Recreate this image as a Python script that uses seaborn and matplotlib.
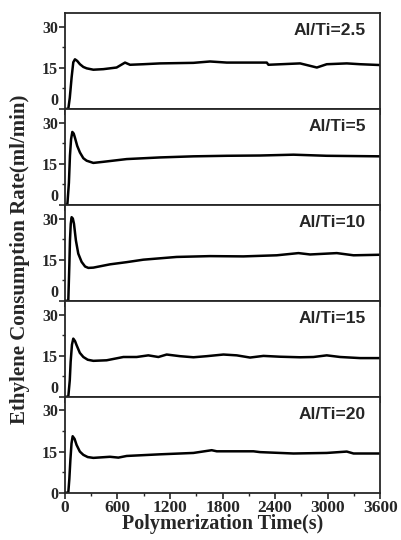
import numpy as np
import pandas as pd
import matplotlib
matplotlib.use("Agg")
import matplotlib.pyplot as plt
from matplotlib.ticker import MultipleLocator
import seaborn as sns

labels = ["Al/Ti=2.5", "Al/Ti=5", "Al/Ti=10", "Al/Ti=15", "Al/Ti=20"]

t1 = [0, 38, 55, 76, 95, 114, 140, 171, 210, 248, 324, 438, 590, 686, 743, 895, 1086, 1467, 1657, 1848, 2305, 2324, 2686, 2877, 2990, 3219, 3372, 3600]
v1 = [0, 0, 4.0, 11.5, 17.0, 18.1, 17.5, 16.3, 15.3, 14.8, 14.3, 14.5, 15.1, 16.9, 16.1, 16.3, 16.6, 16.8, 17.3, 16.9, 16.9, 16.1, 16.6, 15.1, 16.3, 16.6, 16.3, 16.0]

t2 = [0, 27, 45, 57, 70, 84, 100, 114, 140, 171, 210, 248, 324, 438, 705, 1086, 1467, 1848, 2229, 2610, 2990, 3600]
v2 = [0, 0, 8.0, 17.9, 24.0, 26.6, 26.0, 24.5, 21.5, 19.1, 17.0, 16.1, 15.3, 15.7, 16.7, 17.3, 17.7, 17.9, 18.0, 18.3, 17.9, 17.7]

t3 = [0, 38, 50, 57, 66, 76, 90, 103, 125, 152, 190, 230, 267, 324, 514, 705, 895, 1276, 1657, 2038, 2419, 2667, 2800, 3105, 3296, 3600]
v3 = [0, 0, 13.0, 21.9, 28.0, 30.5, 30.0, 28.1, 22.0, 17.2, 14.2, 12.5, 12.0, 12.1, 13.3, 14.1, 15.0, 16.0, 16.3, 16.2, 16.6, 17.4, 16.9, 17.4, 16.6, 16.8]

t4 = [0, 38, 55, 65, 80, 95, 115, 133, 170, 210, 260, 324, 476, 667, 819, 952, 1067, 1162, 1314, 1467, 1619, 1810, 1962, 2114, 2267, 2457, 2686, 2838, 2990, 3143, 3372, 3600]
v4 = [0, 0, 6.0, 12.8, 19.0, 21.2, 20.3, 18.8, 16.0, 14.5, 13.5, 13.1, 13.3, 14.5, 14.5, 15.1, 14.5, 15.4, 14.8, 14.4, 14.8, 15.4, 15.1, 14.3, 14.9, 14.6, 14.4, 14.5, 15.1, 14.5, 14.1, 14.1]

t5 = [0, 38, 50, 62, 75, 88, 110, 133, 170, 210, 260, 324, 514, 610, 705, 1086, 1467, 1676, 1734, 1848, 2153, 2229, 2610, 2990, 3219, 3296, 3600]
v5 = [0, 0, 5.0, 12.0, 18.0, 20.6, 19.6, 17.4, 15.0, 13.8, 13.0, 12.7, 13.1, 12.8, 13.4, 14.0, 14.5, 15.5, 15.1, 15.1, 15.1, 14.8, 14.3, 14.5, 15.0, 14.3, 14.3]

x_ticks = [0, 600, 1200, 1800, 2400, 3000, 3600]
y_ticks = [0, 15, 30]

series = [(t1, v1), (t2, v2), (t3, v3), (t4, v4), (t5, v5)]

sns.set_theme(style="ticks")
plt.rcParams["font.family"] = ["Liberation Serif", "DejaVu Serif"]
plt.rcParams["font.weight"] = "bold"

fig, axes = plt.subplots(5, 1, figsize=(4.01, 5.40), dpi=100, sharex=True)
fig.subplots_adjust(left=0.162, right=0.948, top=0.976, bottom=0.0876, hspace=0)

for ax, lab, (tt, vv) in zip(axes, labels, series):
    df = pd.DataFrame({"time": tt, "rate": vv})
    sns.lineplot(data=df, x="time", y="rate", ax=ax, color="black", linewidth=1.8,
                 estimator=None, sort=False)
    ax.set_xlim(0, 3600)
    ax.set_ylim(0, 35)
    ax.set_yticks(y_ticks)
    ax.yaxis.set_minor_locator(MultipleLocator(7.5))
    ax.set_xticks(x_ticks)
    ax.xaxis.set_minor_locator(MultipleLocator(300))
    ax.tick_params(axis="both", which="major", direction="out", length=4, width=1.2, pad=1)
    ax.tick_params(axis="x", which="major", labelsize=12.5)
    ax.tick_params(axis="y", which="major", labelsize=11.5)
    ax.tick_params(axis="both", which="minor", direction="out", length=2.5, width=1.0)
    ax.tick_params(axis="x", which="both", top=False)
    ax.tick_params(axis="y", which="both", right=False)
    for s in ax.spines.values():
        s.set_linewidth(1.3)
        s.set_visible(True)
    ax.set_xlabel("")
    ax.set_ylabel("")
    ax.text(0.955, 0.82, lab, transform=ax.transAxes, ha="right", va="center",
            fontsize=12.5, fontweight="bold", family=["Liberation Sans", "DejaVu Sans"])

axes[-1].set_xlabel("Polymerization Time(s)", fontsize=14.5, fontweight="bold", labelpad=-1)
fig.text(0.05, 0.52, "Ethylene Consumption Rate(ml/min)", rotation=90, ha="center", va="center",
         fontsize=15, fontweight="bold")

fig.canvas.draw()
for i, ax in enumerate(axes):
    for tl in ax.get_yticklabels() + ax.get_xticklabels():
        tl.set_fontweight("bold")
    if i < len(axes) - 1:
        ylabs = ax.get_yticklabels()
        ylabs[0].set_verticalalignment("bottom")

fig.savefig("out.png", dpi=100)
